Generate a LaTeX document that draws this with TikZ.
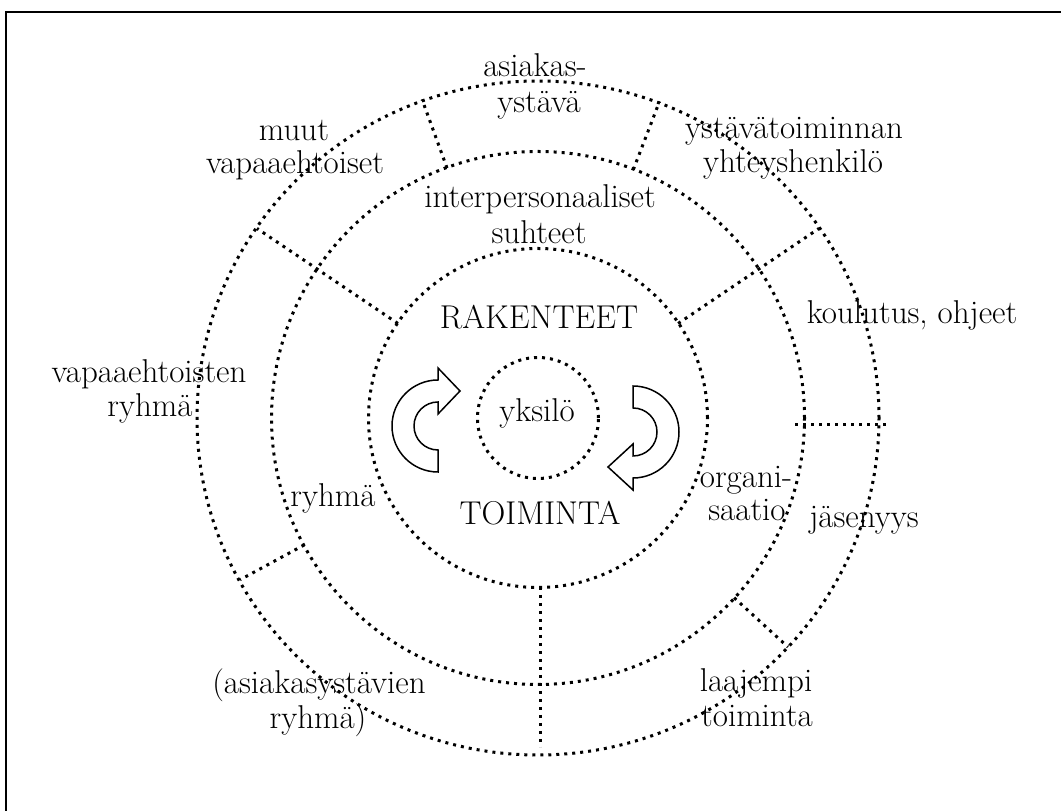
\documentclass[tikz,border=0pt]{standalone}
\usetikzlibrary{calc}
\begin{document}
\begin{tikzpicture}[x=1pt,y=1pt,
  dots/.style={line width=3pt, dash pattern=on 3pt off 5pt},
  lbl/.style={font=\fontsize{33}{38}\selectfont, anchor=base, inner sep=0pt},
  turn/.style={draw=black, line width=1.5pt, fill=white, line join=miter}]
\useasboundingbox (0,0) rectangle (1061,811);
\clip (0,0) rectangle (1061,811);
% frame (open at right and bottom, as in the reference)
\draw[line width=2.2pt] (6,-20) rectangle (1090,799);
\coordinate (c) at (538,393);
% rings
\draw[dots] (c) ellipse [x radius=341, y radius=337];
\draw[dots] (c) circle [radius=266.5];
\draw[dots] (c) circle [radius=169.5];
\draw[dots] (c) circle [radius=60.5];
% spokes
\draw[dots] ($(c)+(110:266)$) -- ($(c)+(110:339)$);
\draw[dots] ($(c)+(69:266)$) -- ($(c)+(69:339)$);
\draw[dots] ($(c)+(146:169)$) -- ($(c)+(146:339)$);
\draw[dots] ($(c)+(34:169)$) -- ($(c)+(34:339)$);
\draw[dots] (795,386) -- (887,386);
\draw[dots] ($(c)+(208.5:266)$) -- ($(c)+(208.5:339)$);
\draw[dots] ($(c)+(-42.5:266)$) -- ($(c)+(-42.5:339)$);
\draw[dots] (540,224) -- (540,64);
% turning arrows
\draw[turn] (438,361) -- (438,339)
  arc[start angle=-90, end angle=-270, radius=46]
  -- (438,443) -- (460,420) -- (438,397) -- (438,409)
  arc[start angle=90, end angle=270, radius=24] -- cycle;
\draw[turn] (633,403) -- (633,425)
  arc[start angle=90, end angle=-90, radius=46]
  -- (633,321) -- (608,344) -- (633,367) -- (633,355)
  arc[start angle=-90, end angle=90, radius=24] -- cycle;
% labels
\node[lbl] (a1) at (535,734) {asiakas-};
\node[lbl] (a2) at (539,698) {ystävä};
\node[lbl] (m1) at (294,670) {muut};
\node[lbl] (m2) at (295,637) {vapaaehtoiset};
\node[lbl] (y1) at (794,672) {ystävätoiminnan};
\node[lbl] (y2) at (793,638) {yhteyshenkilö};
\node[lbl] (i1) at (540,603) {interpersonaaliset};
\node[lbl] (i2) at (539,567) {suhteet};
\node[lbl] (rak) at (539,482) {RAKENTEET};
\node[lbl] (toi) at (540,286) {TOIMINTA};
\node[lbl] (yks) at (537,389) {yksilö};
\node[lbl] (kou) at (912,487) {koulutus, ohjeet};
\node[lbl] (v1) at (149,428) {vapaaehtoisten};
\node[lbl] (v2) at (150,394) {ryhmä};
\node[lbl] (ryh) at (333,304) {ryhmä};
\node[lbl] (o1) at (746,323) {organi-};
\node[lbl] (o2) at (747,290) {saatio};
\node[lbl] (jas) at (864,283) {jäsenyys};
\node[lbl] (as1) at (319,117) {(asiakasystävien};
\node[lbl] (as2) at (318,82) {ryhmä)};
\node[lbl] (l1) at (756,119) {laajempi};
\node[lbl] (l2) at (757,84) {toiminta};
\end{tikzpicture}
\end{document}
